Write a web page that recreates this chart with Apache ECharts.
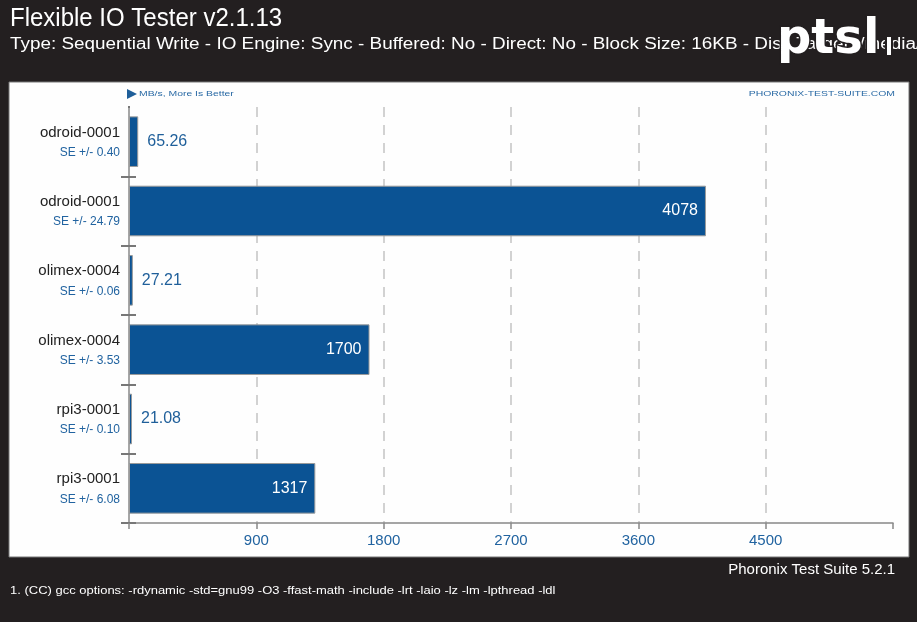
<!DOCTYPE html>
<html><head><meta charset="utf-8">
<script src="https://cdn.jsdelivr.net/npm/echarts@6/dist/echarts.min.js"></script>
<style>html,body{margin:0;padding:0;background:#231f20;}#c{width:917px;height:622px;}</style>
</head><body><div id="c"></div>
<script>
const names = ["odroid-0001","odroid-0001","olimex-0004","olimex-0004","rpi3-0001","rpi3-0001"];
const seValues = ["0.40","24.79","0.06","3.53","0.10","6.08"];
const values = [65.26, 4078, 27.21, 1700, 21.08, 1317];
const valueLabels = ["65.26","4078","27.21","1700","21.08","1317"];
const xTicks = [900, 1800, 2700, 3600, 4500];

const FONT = '"Liberation Sans", Arial, sans-serif';
const cats = names.map((n, i) => i);
const chart = echarts.init(document.getElementById('c'), null, {renderer: 'canvas'});
const big = 500;
chart.setOption({
  backgroundColor: '#231f20',
  animation: false,
  textStyle: {fontFamily: FONT},
  graphic: [
    {type: 'rect', shape: {x: 9, y: 82, width: 900, height: 475}, style: {fill: '#fefefe', stroke: '#777', lineWidth: 1}, z: -10},
    {type: 'text', x: 10, y: 7, scaleX: 0.96, style: {text: 'Flexible IO Tester v2.1.13', fill: '#fff', font: '25px ' + FONT}},
    {type: 'text', x: 10, y: 37, scaleX: 1.18, style: {text: 'Type: Sequential Write - IO Engine: Sync - Buffered: No - Direct: No - Block Size: 16KB - Disk Target: /media/', fill: '#fff', font: '16px ' + FONT}},
    {type: 'text', x: 777, y: 17, z: 100, style: {text: 'ptsl', fill: '#fff', stroke: '#231f20', lineWidth: 3, font: 'bold 48px "DejaVu Sans", sans-serif'}},
    {type: 'rect', z: 100, shape: {x: 886, y: 36, width: 6, height: 20}, style: {fill: '#fff', stroke: '#231f20', lineWidth: 2}},
    {type: 'rect', z: 100, shape: {x: 119, y: 104, width: 9, height: 5}, style: {fill: '#fefefe'}},
    {type: 'rect', z: 100, shape: {x: 130, y: 104, width: 8, height: 5}, style: {fill: '#fefefe'}},
    {type: 'polygon', shape: {points: [[127, 89], [137, 94], [127, 99]]}, style: {fill: '#1f5f9a'}},
    {type: 'text', x: 139, y: 90, scaleX: 1.3, style: {text: 'MB/s, More Is Better', fill: '#2a6aa5', font: '8px ' + FONT}},
    {type: 'text', x: 895, y: 90, scaleX: 1.3, style: {text: 'PHORONIX-TEST-SUITE.COM', textAlign: 'right', fill: '#2a6aa5', font: '8px ' + FONT}},
    {type: 'text', x: 895, y: 562, style: {text: 'Phoronix Test Suite 5.2.1', textAlign: 'right', fill: '#fff', font: '15px ' + FONT}},
    {type: 'text', x: 10, y: 585, scaleX: 1.18, style: {text: '1. (CC) gcc options: -rdynamic -std=gnu99 -O3 -ffast-math -include -lrt -laio -lz -lm -lpthread -ldl', fill: '#fff', font: '11px ' + FONT}}
  ],
  grid: {left: 129, right: 24, top: 107, bottom: 99, containLabel: false},
  xAxis: {
    type: 'value', min: 0, max: 5400, interval: 900,
    axisLine: {show: true, lineStyle: {color: '#888', width: 1.5}},
    axisTick: {show: true, length: 6, lineStyle: {color: '#888', width: 1.5}},
    axisLabel: {color: '#2163a0', fontSize: 15, margin: 10, fontFamily: FONT,
      formatter: v => xTicks.includes(v) ? String(v) : ''},
    splitLine: {show: true, showMinLine: false, showMaxLine: false, lineStyle: {color: '#c4c4c4', width: 1.5, type: [10, 8]}}
  },
  yAxis: [{
    type: 'category', data: cats, inverse: true,
    axisLine: {show: true, lineStyle: {color: '#888', width: 1.5}},
    axisTick: {show: true, length: 8, lineStyle: {color: '#777', width: 2}},
    axisLabel: {
      margin: 9, align: 'right',
      formatter: (v) => '{n|' + names[v] + '}\n{s|SE +/- ' + seValues[v] + '}',
      rich: {
        n: {color: '#222', fontSize: 15, fontFamily: FONT, lineHeight: 22},
        s: {color: '#2163a0', fontSize: 12, fontFamily: FONT, lineHeight: 18}
      }
    }
  }, {
    type: 'category', data: cats, inverse: true, position: 'left',
    axisLine: {show: false},
    axisTick: {show: true, inside: true, length: 7, lineStyle: {color: '#777', width: 2}},
    axisLabel: {show: false}
  }],
  series: [{
    type: 'bar', yAxisIndex: 0,
    data: values.map((v, i) => ({
      value: v,
      label: v > big
        ? {show: true, position: 'insideRight', color: '#fff', fontSize: 16, distance: 8, formatter: valueLabels[i]}
        : {show: true, position: 'right', color: '#1f5f9a', fontSize: 16, distance: 9, formatter: valueLabels[i]}
    })),
    barWidth: '73%',
    itemStyle: {color: '#0b5394', borderColor: '#9a9a9a', borderWidth: 1}
  }]
});
</script></body></html>
